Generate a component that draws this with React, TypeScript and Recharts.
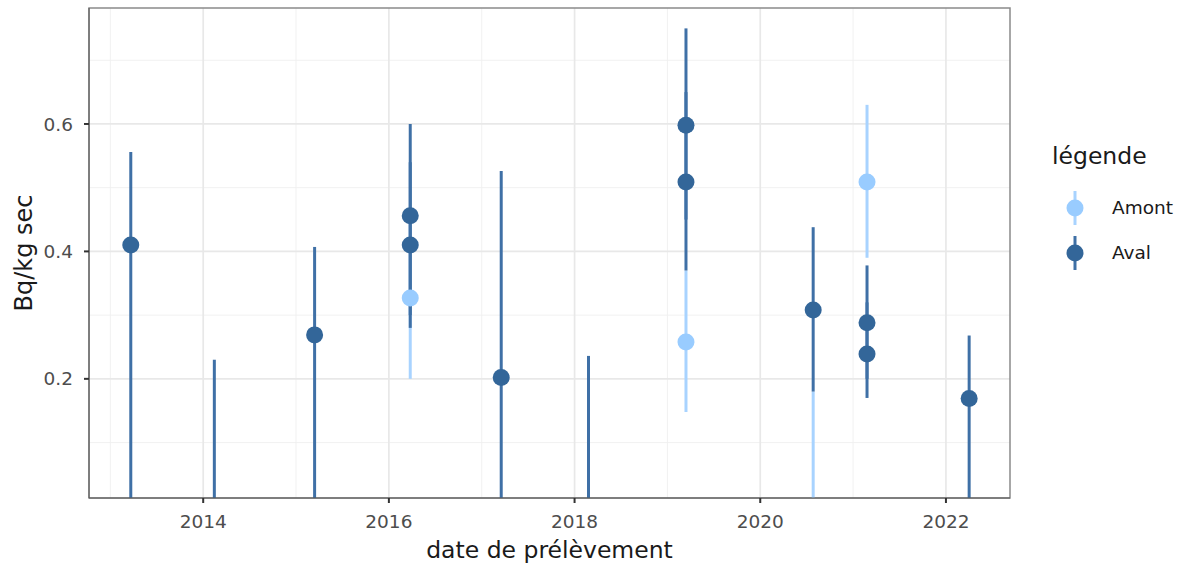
import { ComposedChart, Scatter, ErrorBar, XAxis, YAxis, CartesianGrid, ReferenceArea } from "recharts"

// sampling dates (decimal years) and measured activity (Bq/kg sec)
const amontDates = [2016.23, 2019.2, 2020.57, 2021.15]
const amontValues = [0.327, 0.258, -0.05, 0.509]
const amontLow = [0.2, 0.148, -0.3, 0.39]
const amontHigh = [0.45, 0.37, 0.18, 0.63]

const avalDates = [2013.22, 2014.12, 2015.2, 2016.23, 2016.23, 2017.21, 2018.15, 2019.2, 2019.2, 2020.57, 2021.15, 2021.15, 2022.25]
const avalValues = [0.41, -0.05, 0.269, 0.456, 0.41, 0.202, -0.05, 0.598, 0.509, 0.308, 0.288, 0.239, 0.169]
const avalLow = [-0.2, -0.3, -0.2, 0.3, 0.28, -0.2, -0.3, 0.45, 0.37, 0.18, 0.2, 0.17, -0.1]
const avalHigh = [0.556, 0.23, 0.407, 0.6, 0.54, 0.526, 0.236, 0.75, 0.65, 0.438, 0.378, 0.32, 0.268]

const xTicks = [2014, 2016, 2018, 2020, 2022]
const xMinor = [2013, 2015, 2017, 2019, 2021]
const yTicks = [0.2, 0.4, 0.6]
const yMinor = [0.1, 0.3, 0.5, 0.7]
const xDomain = [2012.77, 2022.69]
const yDomain = [0.013, 0.782]

const LIGHT = "#99ccff"
const DARK = "#336699"
const FONT = "'DejaVu Sans', sans-serif"

// error extents are cut at the panel edges (the panel clips them in the original)
const build = (dates: number[], vals: number[], lo: number[], hi: number[]) =>
  dates.map((d, i) => {
    const v = vals[i]
    const l = Math.max(lo[i], yDomain[0])
    const h = Math.min(hi[i], yDomain[1])
    return { date: d, value: v, err: [v - l, h - v] }
  })

const amont = build(amontDates, amontValues, amontLow, amontHigh)
const aval = build(avalDates, avalValues, avalLow, avalHigh)

const dot = (color: string) => (p: any) => <circle cx={p.cx} cy={p.cy} r={8.5} fill={color} />
const none = () => <g />

const legendItems = [
  { name: "Amont", color: LIGHT, bar: "#a8d3ff" },
  { name: "Aval", color: DARK, bar: "#3f70a6" },
]

function LegendBox() {
  return (
    <div style={{ position: "absolute", left: 1052, top: 142, fontFamily: FONT }}>
      <div style={{ fontSize: 23.5, color: "#1a1a1a", lineHeight: "28px", height: 43 }}>légende</div>
      {legendItems.map((it) => (
        <div key={it.name} style={{ display: "flex", alignItems: "center", height: 45 }}>
          <svg width={46} height={40} style={{ display: "block" }}>
            <line x1={23} x2={23} y1={3} y2={37} stroke={it.bar} strokeWidth={3} />
            <circle cx={23} cy={20} r={8.5} fill={it.color} />
          </svg>
          <span style={{ fontSize: 18.5, color: "#1a1a1a", marginLeft: 14 }}>{it.name}</span>
        </div>
      ))}
    </div>
  )
}

export default function App() {
  return (
    <div style={{ position: "absolute", left: 0, top: 0, width: 1196, height: 572, background: "#fff" }}>
      <ComposedChart width={1196} height={572} margin={{ top: 8, right: 186, bottom: 14, left: 29 }}>
        <CartesianGrid stroke="#efefef" strokeWidth={0.9} verticalValues={xMinor} horizontalValues={yMinor} />
        <CartesianGrid stroke="#e8e8e8" strokeWidth={1.7} verticalValues={xTicks} horizontalValues={yTicks} />
        <XAxis
          type="number"
          dataKey="date"
          domain={xDomain}
          ticks={xTicks}
          allowDataOverflow
          height={60}
          tickSize={5}
          tickMargin={12}
          stroke="#555"
          tickLine={{ stroke: "#333", strokeWidth: 2 }}
          tick={{ fill: "#4d4d4d", fontSize: 18.5, fontFamily: FONT }}
          label={{ value: "date de prélèvement", position: "center", dy: 22, fill: "#1a1a1a", fontSize: 23.5, fontFamily: FONT }}
        />
        <YAxis
          type="number"
          dataKey="value"
          domain={yDomain}
          ticks={yTicks}
          allowDataOverflow
          width={60}
          tickSize={5}
          tickMargin={11}
          stroke="#555"
          tickLine={{ stroke: "#333", strokeWidth: 2 }}
          tick={{ fill: "#4d4d4d", fontSize: 18.5, fontFamily: FONT }}
          tickFormatter={(v: number) => v.toFixed(1)}
          label={{ value: "Bq/kg sec", angle: -90, position: "center", dx: -36, fill: "#1a1a1a", fontSize: 24, fontFamily: FONT }}
        />
        <ReferenceArea x1={xDomain[0]} x2={xDomain[1]} y1={yDomain[0]} y2={yDomain[1]} fill="none" stroke="#8a8a8a" strokeWidth={1.5} ifOverflow="visible" />
        <Scatter data={amont} shape={none} isAnimationActive={false}>
          <ErrorBar dataKey="err" direction="y" width={0} stroke="#a8d3ff" strokeWidth={3} />
        </Scatter>
        <Scatter data={aval} shape={none} isAnimationActive={false}>
          <ErrorBar dataKey="err" direction="y" width={0} stroke="#3f70a6" strokeWidth={3} />
        </Scatter>
        <Scatter data={amont} shape={dot(LIGHT)} isAnimationActive={false} />
        <Scatter data={aval} shape={dot(DARK)} isAnimationActive={false} />
      </ComposedChart>
      <LegendBox />
    </div>
  )
}
